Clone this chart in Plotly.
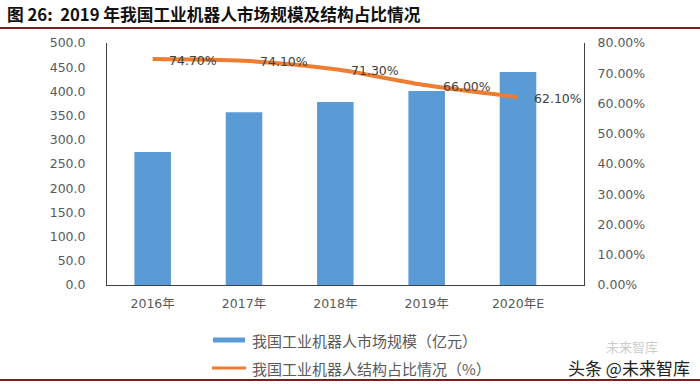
import plotly.graph_objects as go

categories = ["2016年", "2017年", "2018年", "2019年", "2020年E"]
market_size = [275.0, 357.0, 378.0, 401.0, 440.0]
share_pct = [0.747, 0.741, 0.713, 0.660, 0.621]
share_labels = ["74.70%", "74.10%", "71.30%", "66.00%", "62.10%"]
bar_name = "我国工业机器人市场规模（亿元）"
line_name = "我国工业机器人结构占比情况（%）"
title_text = "图 26:  2019 年我国工业机器人市场规模及结构占比情况"

W, H = 700, 386
L, R, T, B = 107, 584, 43, 285

def px(x):
    return (x - L) / (R - L)

def py(y):
    return (B - y) / (B - T)

FONT = "Noto Sans CJK SC"
NUMFONT = "DejaVu Sans, Noto Sans CJK SC"
BLUE = "#5B9BD5"
ORANGE = "#ED7D31"
GREY = "#595959"
RULE = "#7A1E1E"

fig = go.Figure()
fig.add_trace(go.Bar(x=categories, y=market_size, name=bar_name,
                     marker=dict(color=BLUE, line=dict(width=0)), yaxis="y"))
fig.add_trace(go.Scatter(x=categories, y=share_pct, name=line_name, mode="lines",
                         line=dict(color=ORANGE, width=4, shape="spline", smoothing=0.8),
                         yaxis="y2"))

annotations = []
for c, v, t in zip(categories, share_pct, share_labels):
    annotations.append(dict(x=c, y=v, xref="x", yref="y2", text=t, showarrow=False,
                            xanchor="left", yanchor="middle", xshift=14, yshift=-1,
                            font=dict(family=NUMFONT, size=12.5, color="#404040")))

# title
annotations.append(dict(x=px(5), y=py(14), xref="paper", yref="paper", text="<b>" + title_text + "</b>",
                        showarrow=False, xanchor="left", yanchor="middle",
                        font=dict(family=FONT, size=16.7, color="#111111")))
# legend text
annotations.append(dict(x=px(250), y=py(340), xref="paper", yref="paper", text=bar_name,
                        showarrow=False, xanchor="left", yanchor="middle",
                        font=dict(family=FONT, size=15, color=GREY)))
annotations.append(dict(x=px(250), y=py(368), xref="paper", yref="paper", text=line_name,
                        showarrow=False, xanchor="left", yanchor="middle",
                        font=dict(family=FONT, size=15, color=GREY)))
# watermark
annotations.append(dict(x=px(632), y=py(346), xref="paper", yref="paper", text="未来智库",
                        showarrow=False, xanchor="center", yanchor="middle",
                        font=dict(family=FONT, size=13, color="#CCCCCC")))
annotations.append(dict(x=px(692), y=py(367), xref="paper", yref="paper", text="头条 @未来智库",
                        showarrow=False, xanchor="right", yanchor="middle",
                        font=dict(family=FONT, size=17, color="#222222")))

shapes = [
    dict(type="line", xref="paper", yref="paper", x0=px(0), x1=px(700), y0=py(28), y1=py(28),
         line=dict(color=RULE, width=2)),
    dict(type="line", xref="paper", yref="paper", x0=px(0), x1=px(700), y0=py(380), y1=py(380),
         line=dict(color=RULE, width=2)),
    dict(type="line", xref="paper", yref="paper", x0=px(213), x1=px(245), y0=py(340), y1=py(340),
         line=dict(color=BLUE, width=5)),
    dict(type="line", xref="paper", yref="paper", x0=px(212), x1=px(246), y0=py(368), y1=py(368),
         line=dict(color=ORANGE, width=3)),
]

fig.update_layout(
    width=W, height=H,
    margin=dict(l=L, r=W - R, t=T, b=H - B, pad=0),
    paper_bgcolor="white", plot_bgcolor="white",
    showlegend=False,
    bargap=0.6,
    font=dict(family=FONT, color=GREY, size=13),
    xaxis=dict(showline=True, linecolor="#404040", linewidth=1, showgrid=False,
               ticks="", ticklabelstandoff=7, tickfont=dict(family=NUMFONT, size=12.5, color=GREY)),
    yaxis=dict(range=[0, 500], dtick=50, tickformat=".1f", showline=True, linecolor="#404040",
               linewidth=1, showgrid=False, zeroline=False, ticks="", ticklabelstandoff=18,
               tickfont=dict(family=NUMFONT, size=12.5, color=GREY)),
    yaxis2=dict(range=[0, 0.8], dtick=0.1, tickformat=".2%", overlaying="y", side="right",
                showline=True, linecolor="#404040", linewidth=1, showgrid=False, zeroline=False,
                ticks="", ticklabelstandoff=10, tickfont=dict(family=NUMFONT, size=12.5, color=GREY)),
    annotations=annotations,
    shapes=shapes,
)

fig.write_html("out.html", config={"displayModeBar": False},
               post_script="document.body.style.margin='0';document.body.style.overflow='hidden';")
